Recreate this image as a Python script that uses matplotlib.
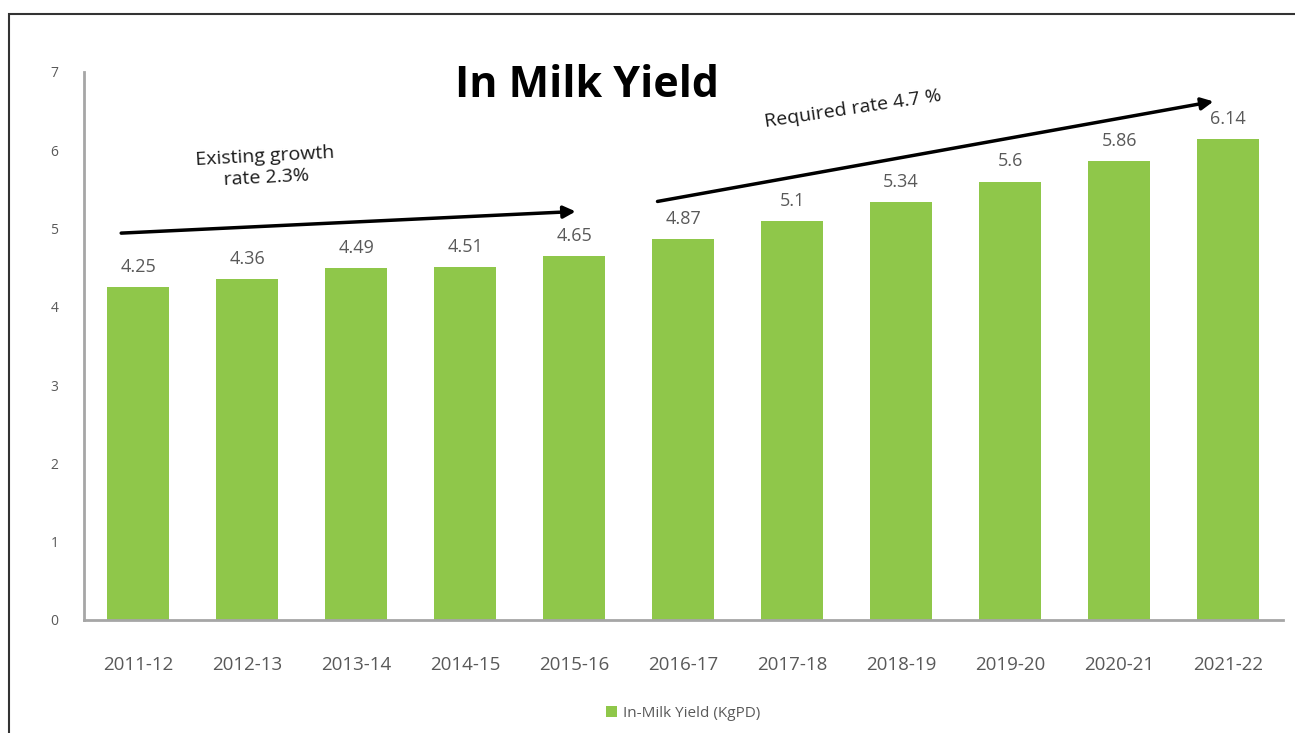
import matplotlib
matplotlib.use("Agg")
import matplotlib.pyplot as plt
from matplotlib.patches import Rectangle

years = ["2011-12", "2012-13", "2013-14", "2014-15", "2015-16", "2016-17",
         "2017-18", "2018-19", "2019-20", "2020-21", "2021-22"]
yield_kg = [4.25, 4.36, 4.49, 4.51, 4.65, 4.87, 5.1, 5.34, 5.6, 5.86, 6.14]
value_labels = ["4.25", "4.36", "4.49", "4.51", "4.65", "4.87", "5.1", "5.34", "5.6", "5.86", "6.14"]
y_ticks = [0, 1, 2, 3, 4, 5, 6, 7]

GREEN = "#8fc74a"
GREY = "#595959"

plt.rcParams["font.family"] = ["Open Sans", "DejaVu Sans"]

fig = plt.figure(figsize=(12.95, 7.33), dpi=100)
ax = fig.add_axes([0.0645, 0.1542, 0.926, 0.7476])

x = list(range(len(years)))
bars = ax.bar(x, yield_kg, width=0.57, color=GREEN, label="In-Milk Yield (KgPD)", zorder=2)

for xi, v, lab in zip(x, yield_kg, value_labels):
    ax.annotate(lab, (xi, v), xytext=(0, 8), textcoords="offset points",
                ha="center", va="bottom", fontsize=13, color=GREY)

ax.set_xlim(-0.5, len(years) - 0.5)
ax.set_ylim(0, 7)
ax.set_yticks(y_ticks)
ax.set_yticklabels([str(t) for t in y_ticks], fontsize=10, color=GREY)
ax.set_xticks(x)
ax.set_xticklabels(years, fontsize=13.5, color=GREY)
ax.tick_params(axis="both", length=0)
ax.tick_params(axis="y", pad=18)
ax.tick_params(axis="x", pad=26)

for s in ("top", "right"):
    ax.spines[s].set_visible(False)
for s in ("left", "bottom"):
    ax.spines[s].set_color("#a6a6a6")
    ax.spines[s].set_linewidth(2)

# growth arrows
ax.annotate("", xy=(4.04, 5.22), xytext=(-0.18, 4.94),
            arrowprops=dict(arrowstyle="-|>", color="black", lw=2.5, mutation_scale=18))
ax.annotate("", xy=(9.89, 6.63), xytext=(4.74, 5.34),
            arrowprops=dict(arrowstyle="-|>", color="black", lw=2.5, mutation_scale=18))
ax.text(1.17, 5.78, "Existing growth\nrate 2.3%", ha="center", va="center",
        fontsize=14, rotation=3, linespacing=1.25, color="#1a1a1a")
ax.text(6.56, 6.53, "Required rate 4.7 %", ha="center", va="center",
        fontsize=14, rotation=8.5, color="#1a1a1a")

fig.text(0.453, 0.884, "In Milk Yield", ha="center", va="center",
         fontsize=31, fontweight="bold", color="black")

ax.legend(loc="center", bbox_to_anchor=(0.5, -0.17), frameon=False, fontsize=11,
          handlelength=0.7, handleheight=0.7, handletextpad=0.4, labelcolor=GREY)

# outer frame of the slide
fig.patches.append(Rectangle((9 / 1295, -0.1), 1.2, (733 - 14) / 733 + 0.1,
                             transform=fig.transFigure, fill=False,
                             edgecolor="#333333", linewidth=1.5))

fig.savefig("out.png", dpi=100)
